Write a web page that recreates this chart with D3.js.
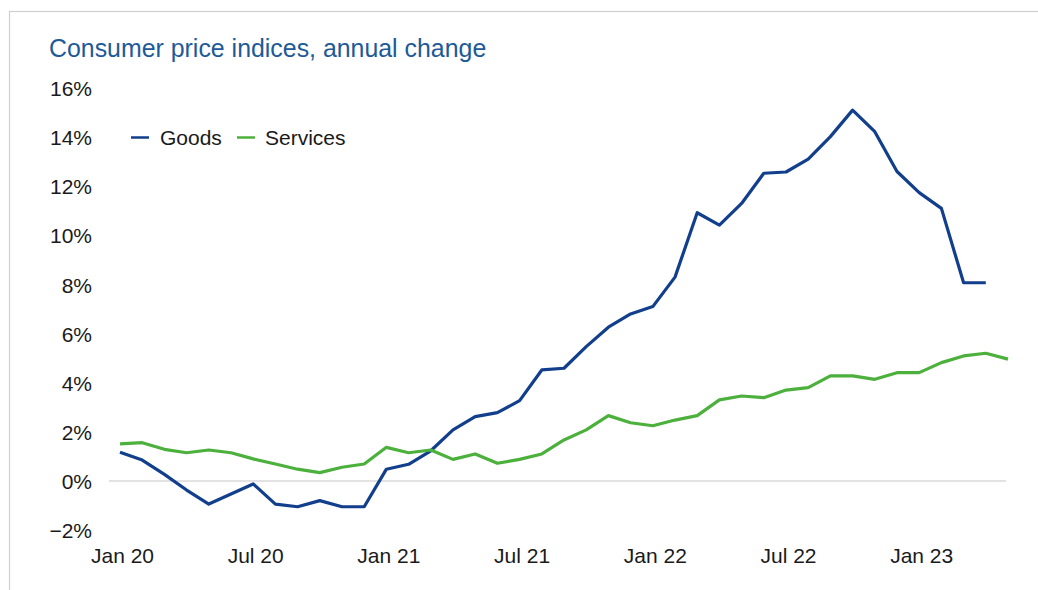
<!DOCTYPE html>
<html>
<head>
<meta charset="utf-8">
<script src="https://cdn.jsdelivr.net/npm/d3@7"></script>
<style>
  html, body { margin: 0; padding: 0; background: #fff; }
  svg { display: block; font-family: "Liberation Sans", Arial, sans-serif; }
</style>
</head>
<body>
<svg id="chart" width="1038" height="590"></svg>
<script>
// Monthly observations, Jan 2020 onwards (percent change on a year earlier)
const firstMonth = "2020-01";
const monthCount = 41;

const goods = [
  1.17, 0.85, 0.27, -0.37, -0.94, -0.53, -0.12, -0.94, -1.05, -0.80,
  -1.05, -1.05, 0.48, 0.68, 1.23, 2.08, 2.62, 2.78, 3.27, 4.52,
  4.59, 5.47, 6.26, 6.80, 7.10, 8.30, 10.92, 10.42, 11.30, 12.53,
  12.58, 13.10, 14.02, 15.10, 14.22, 12.60, 11.74, 11.10, 8.07, 8.07
];

const services = [
  1.51, 1.56, 1.29, 1.15, 1.26, 1.15, 0.90, 0.69, 0.48, 0.34,
  0.56, 0.69, 1.37, 1.15, 1.26, 0.88, 1.10, 0.72, 0.88, 1.10,
  1.67, 2.08, 2.66, 2.37, 2.25, 2.48, 2.66, 3.30, 3.46, 3.39,
  3.70, 3.80, 4.28, 4.28, 4.14, 4.41, 4.41, 4.82, 5.09, 5.20,
  4.96
];

const yTicks = [-2, 0, 2, 4, 6, 8, 10, 12, 14, 16];
const xTickLabels = ["Jan 20", "Jul 20", "Jan 21", "Jul 21", "Jan 22", "Jul 22", "Jan 23"];
const xTickEvery = 6;

const seriesNames = ["Goods", "Services"];
const seriesColors = ["#123f8c", "#4cb03c"];

// Month keys for the point scale
const start = d3.utcParse("%Y-%m")(firstMonth);
const months = d3.range(monthCount).map(i => d3.utcFormat("%Y-%m")(d3.utcMonth.offset(start, i)));

const svg = d3.select("#chart");

// Frame around the panel
svg.append("rect")
  .attr("x", 9.5).attr("y", 11.5)
  .attr("width", 1040).attr("height", 600)
  .attr("fill", "none")
  .attr("stroke", "#cfcfcf")
  .attr("stroke-width", 1.2);

// Title
svg.append("text")
  .attr("x", 49).attr("y", 57)
  .attr("fill", "#1d5a98")
  .attr("font-size", 24.9)
  .text("Consumer price indices, annual change");

const x = d3.scalePoint().domain(months).range([120, 1008]);
const y = d3.scaleLinear().domain([-2, 16]).range([530.1, 88]);

// Y axis labels (no axis line, no ticks)
const yAxis = d3.axisLeft(y)
  .tickValues(yTicks)
  .tickSize(0)
  .tickPadding(0)
  .tickFormat(d => (d < 0 ? "\u2212" + Math.abs(d) : d) + "%");

svg.append("g")
  .attr("transform", "translate(92,0)")
  .call(yAxis)
  .call(g => g.select(".domain").remove())
  .call(g => g.selectAll("text")
    .attr("font-size", 21)
    .attr("font-family", "Liberation Sans, Arial, sans-serif")
    .attr("fill", "#1a1a1a")
    .attr("dy", "0.36em"));

// Zero line
svg.append("line")
  .attr("x1", 109).attr("x2", 1006)
  .attr("y1", y(0)).attr("y2", y(0))
  .attr("stroke", "#d9d9d9")
  .attr("stroke-width", 1.5);

// X axis labels
const xTickValues = months.filter((m, i) => i % xTickEvery === 0).slice(0, xTickLabels.length);
const xAxis = d3.axisBottom(x)
  .tickValues(xTickValues)
  .tickSize(0)
  .tickPadding(0)
  .tickFormat((d, i) => xTickLabels[i]);

svg.append("g")
  .attr("transform", "translate(2,548)")
  .call(xAxis)
  .call(g => g.select(".domain").remove())
  .call(g => g.selectAll("text")
    .attr("font-size", 21)
    .attr("font-family", "Liberation Sans, Arial, sans-serif")
    .attr("fill", "#1a1a1a")
    .attr("dy", "0.73em"));

// Lines
const line = d3.line()
  .x((d, i) => x(months[i]))
  .y(d => y(d));

[goods, services].forEach((vals, k) => {
  svg.append("path")
    .datum(vals)
    .attr("fill", "none")
    .attr("stroke", seriesColors[k])
    .attr("stroke-width", 3.2)
    .attr("stroke-linejoin", "round")
    .attr("d", line);
});

// Legend
const legendItems = [
  { x: 131, textX: 160 },
  { x: 237, textX: 265 }
];
const legend = svg.append("g");
seriesNames.forEach((name, k) => {
  legend.append("line")
    .attr("x1", legendItems[k].x).attr("x2", legendItems[k].x + 18)
    .attr("y1", 137.5).attr("y2", 137.5)
    .attr("stroke", seriesColors[k])
    .attr("stroke-width", 2.5);
  legend.append("text")
    .attr("x", legendItems[k].textX).attr("y", 137.5)
    .attr("dy", "0.36em")
    .attr("font-size", 21)
    .attr("fill", "#1a1a1a")
    .text(name);
});
</script>
</body>
</html>
